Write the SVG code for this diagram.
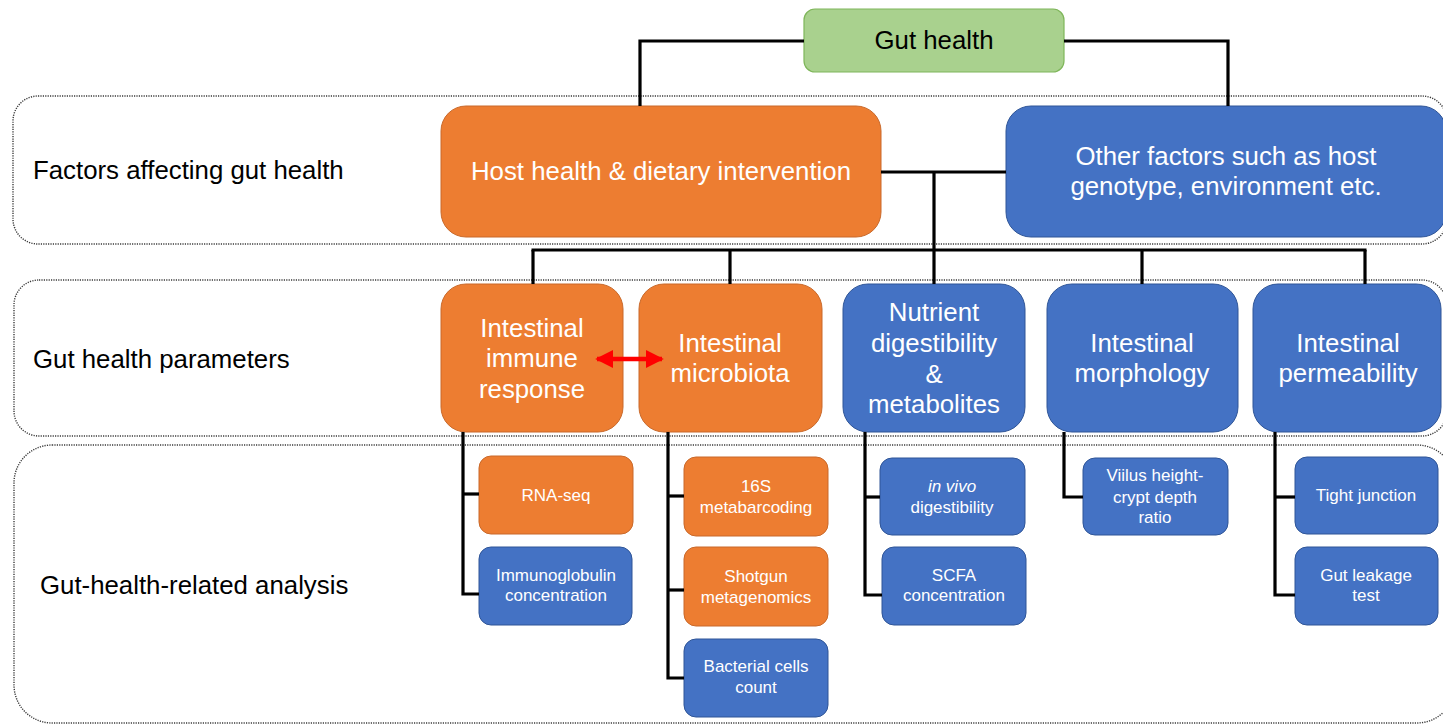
<svg xmlns="http://www.w3.org/2000/svg" width="1443" height="725" viewBox="0 0 1443 725">
  <defs>
    <style>
      .band { fill: none; stroke: #3a3a3a; stroke-width: 1.4; stroke-dasharray: 1.2 1.2; }
      .band-label { font-family: "Liberation Sans", Arial, sans-serif; font-size: 25.8px; fill: #000; }
      .orange { fill: #ed7d31; stroke: #c9692a; stroke-width: 1; }
      .blue { fill: #4472c4; stroke: #2f5597; stroke-width: 1; }
      .green { fill: #a9d18e; stroke: #7fb65a; stroke-width: 1.2; }
      .big { font-family: "Liberation Sans", Arial, sans-serif; font-size: 25.8px; fill: #fff; text-anchor: middle; }
      .small { font-family: "Liberation Sans", Arial, sans-serif; font-size: 17px; fill: #fff; text-anchor: middle; }
      .root-text { font-family: "Liberation Sans", Arial, sans-serif; font-size: 25.8px; fill: #000; text-anchor: middle; }
      .wire { fill: none; stroke: #000; stroke-width: 3.2; stroke-linejoin: miter; }
    </style>
    <marker id="redHead" viewBox="0 0 10 10" refX="9" refY="5" markerWidth="4" markerHeight="4" orient="auto-start-reverse" markerUnits="strokeWidth">
      <path d="M0,0 L10,5 L0,10 Z" fill="#ff0000"/>
    </marker>
  </defs>

  <rect width="1443" height="725" fill="#ffffff"/>

  <!-- dotted row bands -->
  <g id="bands">
    <rect class="band" x="13" y="96" width="1434" height="148" rx="25"/>
    <rect class="band" x="14" y="280" width="1433" height="156" rx="25"/>
    <rect class="band" x="14" y="445" width="1441" height="278" rx="38"/>
    <text class="band-label" x="33" y="179">Factors affecting gut health</text>
    <text class="band-label" x="33" y="368">Gut health parameters</text>
    <text class="band-label" x="40" y="594">Gut-health-related analysis</text>
  </g>

  <!-- root -->
  <g id="gut-health">
    <rect class="green" x="804" y="9" width="260" height="63" rx="11"/>
    <text class="root-text" x="934" y="49">Gut health</text>
  </g>

  <!-- factors -->
  <g id="host-health">
    <rect class="orange" x="441" y="106" width="440" height="131" rx="25"/>
    <text class="big" x="661" y="180">Host health &amp; dietary intervention</text>
  </g>
  <g id="other-factors">
    <rect class="blue" x="1006" y="106" width="440" height="131" rx="25"/>
    <text class="big" x="1226" y="165">Other factors such as host</text>
    <text class="big" x="1226" y="195">genotype, environment etc.</text>
  </g>

  <!-- parameters -->
  <g id="immune-response">
    <rect class="orange" x="441" y="284" width="182" height="148" rx="25"/>
    <text class="big" x="532" y="337">Intestinal</text>
    <text class="big" x="532" y="367">immune</text>
    <text class="big" x="532" y="398">response</text>
  </g>
  <g id="microbiota">
    <rect class="orange" x="639" y="284" width="183" height="148" rx="25"/>
    <text class="big" x="730" y="352">Intestinal</text>
    <text class="big" x="730" y="382">microbiota</text>
  </g>
  <g id="nutrient">
    <rect class="blue" x="843" y="284" width="182" height="148" rx="25"/>
    <text class="big" x="934" y="321">Nutrient</text>
    <text class="big" x="934" y="352">digestibility</text>
    <text class="big" x="934" y="383">&amp;</text>
    <text class="big" x="934" y="413">metabolites</text>
  </g>
  <g id="morphology">
    <rect class="blue" x="1047" y="284" width="191" height="148" rx="25"/>
    <text class="big" x="1142" y="352">Intestinal</text>
    <text class="big" x="1142" y="382">morphology</text>
  </g>
  <g id="permeability">
    <rect class="blue" x="1253" y="284" width="188" height="148" rx="25"/>
    <text class="big" x="1348" y="352">Intestinal</text>
    <text class="big" x="1348" y="382">permeability</text>
  </g>

  <!-- analyses -->
  <g id="rna-seq">
    <rect class="orange" x="479" y="456" width="154" height="78" rx="12"/>
    <text class="small" x="556" y="501">RNA-seq</text>
  </g>
  <g id="immunoglobulin">
    <rect class="blue" x="479" y="547" width="153" height="78" rx="12"/>
    <text class="small" x="556" y="581">Immunoglobulin</text>
    <text class="small" x="556" y="601">concentration</text>
  </g>
  <g id="metabarcoding">
    <rect class="orange" x="684" y="457" width="144" height="79" rx="12"/>
    <text class="small" x="756" y="492">16S</text>
    <text class="small" x="756" y="513">metabarcoding</text>
  </g>
  <g id="shotgun">
    <rect class="orange" x="684" y="547" width="144" height="79" rx="12"/>
    <text class="small" x="756" y="582">Shotgun</text>
    <text class="small" x="756" y="603">metagenomics</text>
  </g>
  <g id="bacterial-count">
    <rect class="blue" x="684" y="639" width="144" height="78" rx="12"/>
    <text class="small" x="756" y="672">Bacterial cells</text>
    <text class="small" x="756" y="693">count</text>
  </g>
  <g id="in-vivo">
    <rect class="blue" x="880" y="458" width="145" height="77" rx="12"/>
    <text class="small" x="952" y="492"><tspan font-style="italic">in vivo</tspan></text>
    <text class="small" x="952" y="513">digestibility</text>
  </g>
  <g id="scfa">
    <rect class="blue" x="882" y="547" width="144" height="78" rx="12"/>
    <text class="small" x="954" y="581">SCFA</text>
    <text class="small" x="954" y="601">concentration</text>
  </g>
  <g id="villus">
    <rect class="blue" x="1083" y="458" width="145" height="77" rx="12"/>
    <text class="small" x="1155" y="481">Viilus height-</text>
    <text class="small" x="1155" y="503">crypt depth</text>
    <text class="small" x="1155" y="523">ratio</text>
  </g>
  <g id="tight-junction">
    <rect class="blue" x="1295" y="457" width="143" height="77" rx="12"/>
    <text class="small" x="1366" y="501">Tight junction</text>
  </g>
  <g id="gut-leakage">
    <rect class="blue" x="1295" y="547" width="143" height="78" rx="12"/>
    <text class="small" x="1366" y="581">Gut leakage</text>
    <text class="small" x="1366" y="601">test</text>
  </g>

  <!-- connectors (drawn last so the red link sits over both boxes) -->
  <g id="connectors">
    <polyline class="wire" points="804,41 640,41 640,106"/>
    <polyline class="wire" points="1064,41 1228,41 1228,106"/>
    <line class="wire" x1="881" y1="172" x2="1006" y2="172"/>
    <line class="wire" x1="934" y1="172" x2="934" y2="284"/>
    <line class="wire" x1="531.5" y1="250" x2="1366.5" y2="250"/>
    <line class="wire" x1="533" y1="250" x2="533" y2="284"/>
    <line class="wire" x1="730" y1="250" x2="730" y2="284"/>
    <line class="wire" x1="1142" y1="250" x2="1142" y2="284"/>
    <line class="wire" x1="1365" y1="250" x2="1365" y2="284"/>
    <polyline class="wire" points="463,432 463,594 479,594"/>
    <line class="wire" x1="463" y1="494" x2="479" y2="494"/>
    <polyline class="wire" points="668,432 668,678 684,678"/>
    <line class="wire" x1="668" y1="496" x2="684" y2="496"/>
    <line class="wire" x1="668" y1="590" x2="684" y2="590"/>
    <polyline class="wire" points="865,432 865,595 882,595"/>
    <line class="wire" x1="865" y1="497" x2="880" y2="497"/>
    <polyline class="wire" points="1064,432 1064,497 1083,497"/>
    <polyline class="wire" points="1275,432 1275,595 1295,595"/>
    <line class="wire" x1="1275" y1="497" x2="1295" y2="497"/>
    <line x1="597" y1="359" x2="662" y2="359" stroke="#ff0000" stroke-width="4.5" marker-start="url(#redHead)" marker-end="url(#redHead)"/>
  </g>
</svg>
